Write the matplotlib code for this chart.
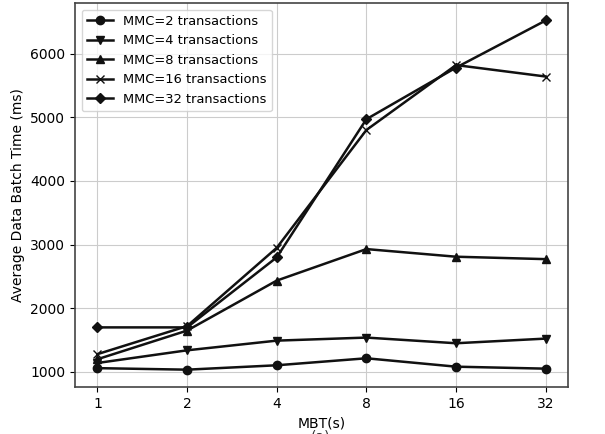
import matplotlib
matplotlib.use("Agg")
import matplotlib.pyplot as plt

MBT = ["1", "2", "4", "8", "16", "32"]
mmc2 = [1060, 1036, 1105, 1215, 1083, 1052]
mmc4 = [1141, 1340, 1492, 1540, 1451, 1524]
mmc8 = [1200, 1650, 2435, 2930, 2810, 2772]
mmc16 = [1280, 1720, 2950, 4800, 5820, 5640]
mmc32 = [1700, 1700, 2800, 4970, 5780, 6520]

SERIES = [
    ("MMC=2 transactions", mmc2, "o"),
    ("MMC=4 transactions", mmc4, "v"),
    ("MMC=8 transactions", mmc8, "^"),
    ("MMC=16 transactions", mmc16, "x"),
    ("MMC=32 transactions", mmc32, "D"),
]


def main():
    fig = plt.figure(figsize=(6.05, 4.34), dpi=100)
    ax = fig.add_axes([0.124, 0.108, 0.815, 0.885])

    x = list(range(len(MBT)))
    for label, vals, m in SERIES:
        ms = 5 if m == "D" else 6
        ax.plot(x, vals, marker=m, color="#111111", linewidth=1.8,
                markersize=ms, label=label)

    ax.set_xticks(x)
    ax.set_xticklabels(MBT)
    ax.set_xlabel("MBT(s)")
    ax.set_ylabel("Average Data Batch Time (ms)")
    ax.grid(True, color="#cccccc")
    ax.legend(loc="upper left", fontsize=9.4)
    for s in ax.spines.values():
        s.set_color("#444444")
        s.set_linewidth(1.2)

    # caption partly cut off at the bottom, as in the source
    fig.text(0.53, -0.005, "(a)", ha="center", va="center", fontsize=10, color="#333333")
    fig.savefig("out.png", dpi=100)


if __name__ == '__main__':
    main()
